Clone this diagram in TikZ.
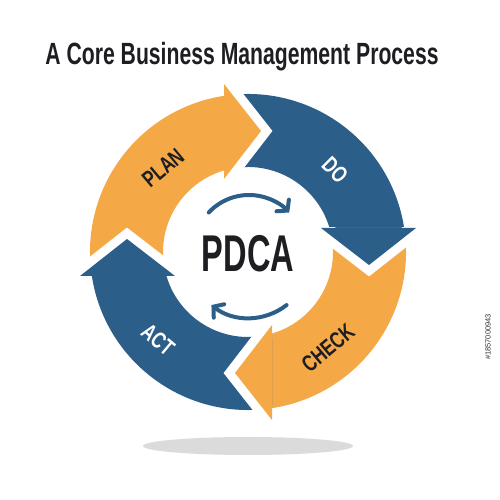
\documentclass[tikz,border=0pt]{standalone}
\usepackage{fontspec}
\setmainfont{Liberation Sans}
\newfontfamily\condfont[FakeStretch=0.69]{Liberation Sans}
\newfontfamily\pdcafont[FakeStretch=0.63]{Liberation Sans}
\newfontfamily\labfont[FakeStretch=0.74]{Liberation Sans}
\usetikzlibrary{arrows.meta}
\definecolor{porange}{HTML}{F5A846}
\definecolor{pblue}{HTML}{2C5E8A}
\definecolor{ptext}{HTML}{1E1E22}
\begin{document}
\begin{tikzpicture}[x=1pt,y=1pt,
  lab/.style={font=\labfont\bfseries\fontsize{23}{25}\selectfont, inner sep=0pt},
  cyc/.style={pblue, line width=4pt, line cap=round, -{Straight Barb[length=7pt,width=17pt,line cap=round]}}]
\useasboundingbox (0,0) rectangle (500,500);
\fill[white] (0,0) rectangle (500,500);
\coordinate (c) at (248,248);
\pgfmathsetmacro\ai{acos(-24/85)}
\pgfmathsetmacro\ao{acos(-24/158)}
% shadow
\fill[black!14] (248,54) ellipse [x radius=105, y radius=9];
% bodies
\foreach \r/\col in {0/porange,-90/pblue,-180/porange,-270/pblue}{
  \begin{scope}[shift={(c)}, rotate=\r]
    \fill[\col] ({\ai+90}:85) arc[start angle={\ai+90}, end angle=\ai, radius=85]
      -- (\ao:158) arc[start angle=\ao, end angle={\ao+90}, radius=158] -- cycle;
  \end{scope}
}
% heads
\foreach \r/\col in {0/porange,-90/pblue,-180/porange,-270/pblue}{
  \begin{scope}[shift={(c)}, rotate=\r]
    \begin{scope}
      \clip (-24,30) rectangle (80,210);
      \draw[white, line width=18pt, line join=miter] (-24,73) -- (13,121) -- (-24,168);
    \end{scope}
    \fill[\col] (-24,73) -- (13,121) -- (-24,168) -- cycle;
  \end{scope}
}
% inner cycle arrows
\draw[cyc] ([shift={(137:55)}]249,250) arc[start angle=137, end angle=43, radius=55];
\draw[cyc] ([shift={(-52:61)}]249,243) arc[start angle=-52, end angle=-128, radius=61];
% texts
\node[ptext, anchor=base, font=\condfont\bfseries\fontsize{30.7}{34}\selectfont] (title) at (242,435) {A Core Business Management Process};
\node[ptext, anchor=base, font=\pdcafont\bfseries\fontsize{51.7}{56}\selectfont] (pdca) at (248,228) {PDCA};
\node[lab, ptext, rotate=40] (plan) at (163,332) {PLAN};
\node[lab, white, rotate=-45] (do) at (335,330) {DO};
\node[lab, ptext, rotate=40] (check) at (328,152) {CHECK};
\node[lab, white, rotate=-40] (act) at (158,160) {ACT};
\node[black!80, rotate=90, font=\fontsize{7.5}{8}\selectfont] (id) at (488,163) {\#1857000943};
\end{tikzpicture}
\end{document}
